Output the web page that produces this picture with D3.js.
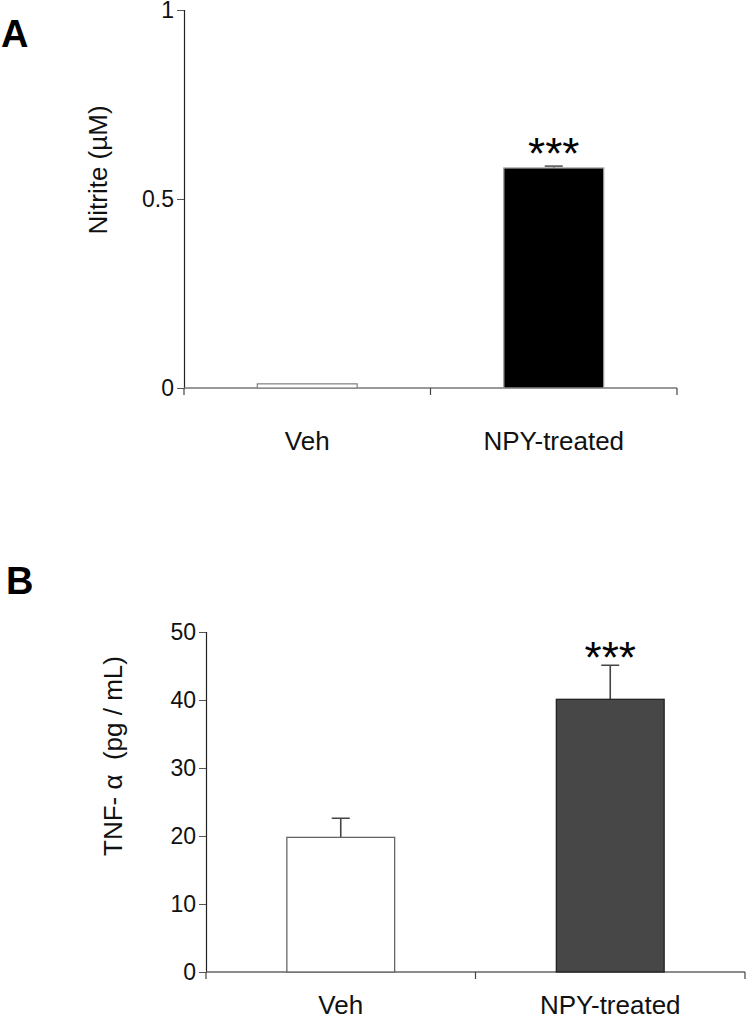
<!DOCTYPE html>
<html>
<head>
<meta charset="utf-8">
<script src="https://cdn.jsdelivr.net/npm/d3@7"></script>
<style>
  body { margin: 0; background: #fff; }
  svg { display: block; font-family: "Liberation Sans", Arial, sans-serif; }
</style>
</head>
<body>
<svg id="chart" width="747" height="1024"></svg>
<script>
const groups = ["Veh", "NPY-treated"];

const nitriteMean = [0.011, 0.582];
const nitriteErr = [0, 0.005];
const nitriteTicks = [0, 0.5, 1];
const nitriteStars = ["", "***"];

const tnfMean = [19.8, 40.1];
const tnfErr = [2.8, 5.0];
const tnfTicks = [0, 10, 20, 30, 40, 50];
const tnfStars = ["", "***"];

const svg = d3.select("#chart");

function drawPanel(opts) {
  const g = svg.append("g");

  const x = d3.scaleBand()
    .domain(groups)
    .range([opts.left, opts.right])
    .paddingInner(0)
    .paddingOuter(0);

  const y = d3.scaleLinear()
    .domain(opts.domain)
    .range([opts.bottom, opts.top]);

  const barW = x.bandwidth() * opts.barFrac;

  // eje y
  const yAxis = g.append("g")
    .attr("transform", `translate(${opts.left},0)`)
    .call(d3.axisLeft(y).tickValues(opts.ticks).tickSize(7).tickPadding(3)
      .tickFormat(d => opts.fmt(d)));
  yAxis.select(".domain").attr("stroke", "#222").attr("stroke-width", 1.2);
  yAxis.selectAll(".tick line").attr("stroke", "#555");
  yAxis.selectAll(".tick text")
    .attr("fill", "#111")
    .style("font-size", "23px");

  // eje x, marcas en los bordes de cada grupo
  const xAxis = g.append("g")
    .attr("transform", `translate(0,${opts.bottom})`);
  xAxis.append("line")
    .attr("x1", opts.left).attr("x2", opts.right)
    .attr("stroke", opts.xAxisColor).attr("stroke-width", 1.5);
  const edges = [opts.left, ...groups.map(d => x(d) + x.bandwidth())];
  xAxis.selectAll("line.tk")
    .data(edges)
    .enter()
    .append("line")
    .attr("class", "tk")
    .attr("x1", d => d).attr("x2", d => d)
    .attr("y1", 0).attr("y2", 7)
    .attr("stroke", "#444").attr("stroke-width", 1.2);
  xAxis.selectAll("text")
    .data(groups)
    .enter()
    .append("text")
    .attr("x", d => x(d) + x.bandwidth() / 2)
    .attr("y", opts.catDy)
    .attr("text-anchor", "middle")
    .attr("fill", "#111")
    .style("font-size", "26px")
    .text(d => d);

  // barras de error (solo hacia arriba)
  const cx = i => x(groups[i]) + x.bandwidth() / 2;
  g.append("g")
    .selectAll("path")
    .data(opts.mean.map((m, i) => ({ m, e: opts.err[i], i })).filter(d => d.e > 0))
    .enter()
    .append("path")
    .attr("d", d => {
      const xc = cx(d.i), y0 = y(d.m), y1 = y(d.m + d.e);
      return `M${xc},${y0}V${y1}M${xc - opts.cap},${y1}H${xc + opts.cap}`;
    })
    .attr("fill", "none")
    .attr("stroke", opts.errColor)
    .attr("stroke-width", 1.6);

  // barras
  g.append("g")
    .selectAll("rect")
    .data(opts.mean)
    .enter()
    .append("rect")
    .attr("x", (d, i) => cx(i) - barW / 2)
    .attr("width", barW)
    .attr("y", d => y(d))
    .attr("height", d => opts.bottom - y(d))
    .attr("fill", (d, i) => opts.fills[i])
    .attr("stroke", (d, i) => opts.strokes[i])
    .attr("stroke-width", 1.3);

  // asteriscos de significancia
  g.append("g")
    .selectAll("text")
    .data(opts.stars)
    .enter()
    .append("text")
    .attr("x", (d, i) => cx(i))
    .attr("y", (d, i) => y(opts.mean[i] + opts.err[i]) + opts.starDy)
    .attr("text-anchor", "middle")
    .attr("fill", "#000")
    .style("font-size", "44px")
    .text(d => d);

  // título del eje y
  g.append("text")
    .attr("transform", `translate(${opts.titleX},${opts.titleY}) rotate(-90)`)
    .attr("text-anchor", "middle")
    .attr("fill", "#111")
    .attr("xml:space", "preserve")
    .style("white-space", "pre")
    .style("font-size", opts.titleSize)
    .text(opts.title);

  // letra del panel
  g.append("text")
    .attr("x", opts.letterX)
    .attr("y", opts.letterY)
    .attr("fill", "#000")
    .style("font-size", "38px")
    .style("font-weight", "bold")
    .text(opts.letter);
}

drawPanel({
  letter: "A", letterX: 1, letterY: 47,
  left: 184, right: 677, top: 10, bottom: 388,
  domain: [0, 1], ticks: nitriteTicks, fmt: d => d3.format("")(d),
  mean: nitriteMean, err: nitriteErr, stars: nitriteStars,
  barFrac: 0.405, cap: 9, starDy: 3,
  fills: ["#fff", "#000"], strokes: ["#888", "#999"],
  errColor: "#666", xAxisColor: "#777",
  catDy: 62, title: "Nitrite (µM)", titleSize: "26px", titleX: 107, titleY: 170
});

drawPanel({
  letter: "B", letterX: 6, letterY: 594,
  left: 206, right: 745, top: 632, bottom: 972,
  domain: [0, 50], ticks: tnfTicks, fmt: d => d,
  mean: tnfMean, err: tnfErr, stars: tnfStars,
  barFrac: 0.4, cap: 9, starDy: 8,
  fills: ["#fff", "#474747"], strokes: ["#666", "#222"],
  errColor: "#444", xAxisColor: "#666",
  catDy: 42, title: "TNF- α  (pg / mL)", titleSize: "26px", titleX: 122, titleY: 756
});
</script>
</body>
</html>
